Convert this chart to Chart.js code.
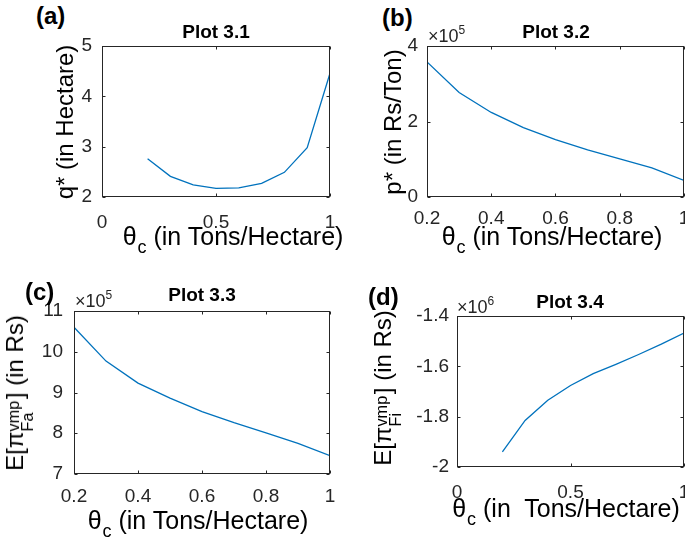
<!DOCTYPE html>
<html>
<head>
<meta charset="utf-8">
<script src="https://cdn.jsdelivr.net/npm/chart.js@4.4.0/dist/chart.umd.min.js"></script>
<style>
html, body { margin: 0; padding: 0; background: #fff; }
#fig { position: relative; width: 685px; height: 542px; overflow: hidden; font-family: "Liberation Sans", Arial, sans-serif; color: #000; }
#fig canvas { position: absolute; }
.t { position: absolute; white-space: nowrap; line-height: 1; z-index: 2; }
.letter { font-weight: bold; font-size: 24px; }
.title { font-weight: bold; font-size: 19px; transform: translateX(-50%); }
.xlab { font-size: 25px; transform: translateX(-50%); }
.ylab { font-size: 24px; transform: translate(-50%, -50%) rotate(-90deg); }
.exp { font-size: 18px; color: #262626; }
.exp sup { font-size: 12px; position: relative; top: -3px; vertical-align: top; }
.c { font-size: 0.72em; position: relative; top: 0.45em; margin-left: 1px; }
.stk { display: inline-block; position: relative; width: 1.35em; height: 0.8em; }
.stk .u { position: absolute; left: 0; bottom: 0.12em; font-size: 0.68em; line-height: 1; }
.stk .d { position: absolute; left: 0; top: 0.95em; font-size: 0.68em; line-height: 1; }
</style>
</head>
<body>
<div id="fig">
  <canvas id="c1"></canvas>
  <canvas id="c2"></canvas>
  <canvas id="c3"></canvas>
  <canvas id="c4"></canvas>

  <div class="t letter" style="left:36px;top:4px">(a)</div>
  <div class="t letter" style="left:382px;top:6px">(b)</div>
  <div class="t letter" style="left:25px;top:280px">(c)</div>
  <div class="t letter" style="left:368px;top:285px">(d)</div>

  <div class="t title" style="left:216px;top:22px">Plot 3.1</div>
  <div class="t title" style="left:556px;top:22px">Plot 3.2</div>
  <div class="t title" style="left:202px;top:285px">Plot 3.3</div>
  <div class="t title" style="left:570px;top:292px">Plot 3.4</div>

  <div class="t exp" style="left:428px;top:27px">×10<sup>5</sup></div>
  <div class="t exp" style="left:75px;top:292px">×10<sup>5</sup></div>
  <div class="t exp" style="left:457px;top:298px">×10<sup>6</sup></div>

  <div class="t xlab" style="left:233px;top:224px">θ<span class="c">c</span> (in Tons/Hectare)</div>
  <div class="t xlab" style="left:552px;top:224px">θ<span class="c">c</span> (in Tons/Hectare)</div>
  <div class="t xlab" style="left:198px;top:508px">θ<span class="c">c</span> (in Tons/Hectare)</div>
  <div class="t xlab" style="left:566px;top:496px">θ<span class="c">c</span> (in&nbsp; Tons/Hectare)</div>

  <div class="t ylab" style="left:65px;top:122px">q* (in Hectare)</div>
  <div class="t ylab" style="left:393px;top:122px">p* (in Rs/Ton)</div>
  <div class="t ylab" style="left:15px;top:393px">E[π<span class="stk"><span class="u">vmp</span><span class="d">Fa</span></span>] (in Rs)</div>
  <div class="t ylab" style="left:383px;top:388px">E[π<span class="stk"><span class="u">vmp</span><span class="d">Fi</span></span>] (in Rs)</div>
</div>
<script>
// theta_c values (Tons/Hectare), same for all four plots
var thetaC = [0.2, 0.3, 0.4, 0.5, 0.6, 0.7, 0.8, 0.9, 1.0];

// Plot 3.1 : q* (Hectare)
var qStar = [2.76, 2.41, 2.24, 2.17, 2.18, 2.27, 2.49, 2.98, 4.46];
// Plot 3.2 : p* (Rs/Ton), x 10^5
var pStar = [3.58, 2.77, 2.24, 1.84, 1.52, 1.25, 1.01, 0.77, 0.44];
// Plot 3.3 : E[pi_Fa] (Rs), x 10^5
var profitFa = [10.6, 9.77, 9.23, 8.86, 8.53, 8.26, 8.01, 7.75, 7.45];
// Plot 3.4 : E[pi_Fi] (Rs), x 10^6
var profitFi = [-1.94, -1.815, -1.735, -1.676, -1.629, -1.592, -1.553, -1.512, -1.468];

// tick values
var xTicksA = [0, 0.5, 1],            yTicksA = [2, 3, 4, 5];
var xTicksB = [0.2, 0.4, 0.6, 0.8, 1], yTicksB = [0, 2, 4];
var xTicksC = [0.2, 0.4, 0.6, 0.8, 1], yTicksC = [7, 8, 9, 10, 11];
var xTicksD = [0, 0.5, 1],            yTicksD = [-2, -1.8, -1.6, -1.4];

// matlab style box with inward ticks on all sides
var boxPlugin = {
    id: 'mbox',
    afterDraw: function(chart) {
        var ctx = chart.ctx, a = chart.chartArea;
        var x = chart.scales.x, y = chart.scales.y;
        var l = Math.round(a.left) + 0.5, r = Math.round(a.right) - 0.5;
        var t = Math.round(a.top) + 0.5, b = Math.round(a.bottom) - 0.5;
        ctx.save();
        ctx.strokeStyle = '#262626';
        ctx.lineWidth = 1;
        ctx.strokeRect(l, t, r - l, b - t);
        ctx.beginPath();
        x.ticks.forEach(function(tk) {
            var px = Math.round(x.getPixelForValue(tk.value)) + 0.5;
            ctx.moveTo(px, b); ctx.lineTo(px, b - 3);
            ctx.moveTo(px, t); ctx.lineTo(px, t + 3);
        });
        y.ticks.forEach(function(tk) {
            var py = Math.round(y.getPixelForValue(tk.value)) + 0.5;
            ctx.moveTo(l, py); ctx.lineTo(l + 3, py);
            ctx.moveTo(r, py); ctx.lineTo(r - 3, py);
        });
        ctx.stroke();
        ctx.restore();
    }
};

function fmt(v) { return String(Math.round(v * 100) / 100); }

function panel(id, box, ys, xTicks, yTicks, xPad, yPad) {
    var cv = document.getElementById(id);
    var padL = 60, padT = 10, padB = 40;
    var padR = box.R >= 683 ? 685 - box.R : 10;
    cv.width = box.R - box.L + padL + padR;
    cv.height = box.B - box.T + padT + padB;
    cv.style.left = (box.L - padL) + 'px';
    cv.style.top = (box.T - padT) + 'px';
    var tickFont = { family: '"Liberation Sans", Arial, sans-serif', size: 19 };

    new Chart(cv, {
        type: 'line',
        data: {
            datasets: [{
                data: thetaC.map(function(x, i) { return { x: x, y: ys[i] }; }),
                borderColor: '#0072BD',
                borderWidth: 1.3,
                pointRadius: 0,
                tension: 0,
                fill: false
            }]
        },
        options: {
            responsive: false,
            animation: false,
            devicePixelRatio: 1,
            layout: { padding: { left: 0, top: padT, right: padR, bottom: 0 } },
            plugins: { legend: { display: false }, tooltip: { enabled: false } },
            scales: {
                x: {
                    type: 'linear',
                    min: xTicks[0], max: xTicks[xTicks.length - 1],
                    afterBuildTicks: function(s) { s.ticks = xTicks.map(function(v) { return { value: v }; }); },
                    afterFit: function(s) { s.height = padB; s.paddingLeft = 0; s.paddingRight = 0; },
                    grid: { display: false, drawTicks: false },
                    border: { display: false },
                    ticks: { padding: xPad, color: '#262626', font: tickFont, maxRotation: 0, autoSkip: false, callback: fmt }
                },
                y: {
                    type: 'linear',
                    min: yTicks[0], max: yTicks[yTicks.length - 1],
                    afterBuildTicks: function(s) { s.ticks = yTicks.map(function(v) { return { value: v }; }); },
                    afterFit: function(s) { s.width = padL; s.paddingTop = 0; s.paddingBottom = 0; },
                    grid: { display: false, drawTicks: false },
                    border: { display: false },
                    ticks: { padding: yPad, color: '#262626', font: tickFont, autoSkip: false, callback: fmt }
                }
            }
        },
        plugins: [boxPlugin]
    });
}

panel('c1', { L: 102, R: 330, T: 46, B: 197 }, qStar, xTicksA, yTicksA, 14, 10);
panel('c2', { L: 427, R: 684, T: 46, B: 197 }, pStar, xTicksB, yTicksB, 10, 9);
panel('c3', { L: 74, R: 330, T: 311, B: 474 }, profitFa, xTicksC, yTicksC, 11, 11);
panel('c4', { L: 457, R: 684, T: 316, B: 467 }, profitFi, xTicksD, yTicksD, 14, 8);
</script>
</body>
</html>
